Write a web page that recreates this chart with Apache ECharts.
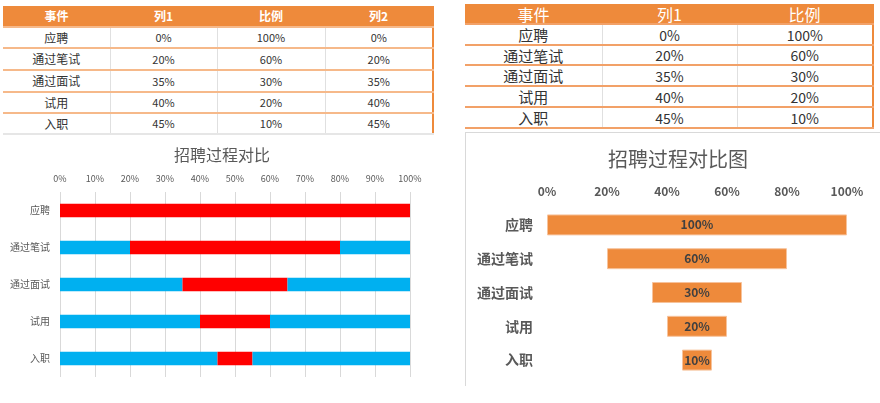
<!DOCTYPE html>
<html><head><meta charset="utf-8">
<script src="https://cdn.jsdelivr.net/npm/echarts@6/dist/echarts.min.js"></script>
<style>
html,body{margin:0;padding:0;background:#fff;width:880px;height:403px;overflow:hidden;font-family:"Noto Sans CJK SC","Noto Sans",sans-serif;}
#chart{position:absolute;left:0;top:0;width:880px;height:403px;}
table{position:absolute;border-collapse:collapse;table-layout:fixed;}
td,th{padding:0;text-align:center;vertical-align:middle;color:#333;white-space:nowrap;overflow:hidden;line-height:1;}
th{background:#EE8A3B;color:#fff;font-weight:bold;}
#t1{left:3px;top:6px;width:430px;font-size:11px;border-right:2px solid #EE8A3B;}
#t1 th{font-size:12px;}
#t1 td{border-top:2px solid #F6B98A;border-left:1px solid #e0e0e0;}
#t1 td:first-child{border-left:none;font-size:12px;}
#t1 tr:last-child td{border-bottom:2px solid #e6e6e6;}
#t2{left:465px;top:4px;width:408px;font-size:14px;border-right:2px solid #EE8A3B;}
#t2 th{font-weight:normal;font-size:16px;}
#t2 td{border-top:2px solid #F2A168;border-left:1px solid #e0e0e0;}
#t2 td:first-child{border-left:none;font-size:15px;}
#t2 tr:last-child td{border-bottom:2px solid #F2A168;}
#box{position:absolute;left:465px;top:132px;width:420px;height:253px;border-left:1px solid #d9d9d9;border-top:1px solid #d9d9d9;}
</style></head>
<body>
<div id="box"></div>
<table id="t1"></table>
<table id="t2"></table>
<div id="chart"></div>
<script>
// ---- data ----
const categories = ['应聘','通过笔试','通过面试','试用','入职'];
const col1  = [0, 20, 35, 40, 45];
const ratio = [100, 60, 30, 20, 10];
const col2  = [0, 20, 35, 40, 45];
const headers1 = ['事件','列1','比例','列2'];
const headers2 = ['事件','列1','比例'];
const leftTicks = [0,10,20,30,40,50,60,70,80,90,100];
const rightTicks = [0,20,40,60,80,100];
const title1 = '招聘过程对比';
const title2 = '招聘过程对比图';

// ---- tables ----
function buildTable(id, headers, cols, headH, rowHs, colWs){
  const t = document.getElementById(id);
  let h = '<colgroup>' + colWs.map(w=>'<col style="width:'+w+'px">').join('') + '</colgroup>';
  h += '<tr style="height:'+headH+'px">' + headers.map(x=>'<th>'+x+'</th>').join('') + '</tr>';
  categories.forEach((c,i)=>{
    h += '<tr style="height:'+rowHs[i]+'px"><td>'+c+'</td>' + cols.map(a=>'<td>'+a[i]+'%</td>').join('') + '</tr>';
  });
  t.innerHTML = h;
}
buildTable('t1', headers1, [col1, ratio, col2], 21, [21,22,22,21,21], [107,107,108,108]);
buildTable('t2', headers2, [col1, ratio], 20, [21,20,21,21,21], [137,135,136]);

// ---- chart ----
const gray = '#595959';
const ff = '"Noto Sans CJK SC","Noto Sans",sans-serif';
const chart = echarts.init(document.getElementById('chart'), null, {renderer:'canvas'});
chart.setOption({
  animation:false,
  textStyle:{fontFamily:ff},
  title:[
    {text:title1, left:217, top:142, textAlign:'center', textStyle:{fontSize:16, fontWeight:'normal', color:gray, fontFamily:ff}},
    {text:title2, left:673, top:144, textAlign:'center', textStyle:{fontSize:20, fontWeight:'normal', color:gray, fontFamily:ff}}
  ],
  grid:[
    {left:60, top:192, width:350, height:185, containLabel:false},
    {left:547, top:208, width:300, height:169, containLabel:false}
  ],
  xAxis:[
    {gridIndex:0, type:'value', position:'top', min:0, max:100, interval:10,
     axisLine:{show:false}, axisTick:{show:false},
     splitLine:{show:true, lineStyle:{color:'#d9d9d9', width:1}},
     axisLabel:{formatter:'{value}%', fontSize:9, color:gray, margin:9, fontFamily:ff}},
    {gridIndex:1, type:'value', position:'top', min:0, max:100, interval:20,
     axisLine:{show:false}, axisTick:{show:false}, splitLine:{show:false},
     axisLabel:{formatter:'{value}%', fontSize:12, fontWeight:'bold', color:gray, margin:11, fontFamily:ff}}
  ],
  yAxis:[
    {gridIndex:0, type:'category', data:categories, inverse:true,
     axisLine:{show:false}, axisTick:{show:false},
     axisLabel:{fontSize:10, color:gray, margin:10, fontFamily:ff}},
    {gridIndex:1, type:'category', data:categories, inverse:true,
     axisLine:{show:false}, axisTick:{show:false},
     axisLabel:{fontSize:14, fontWeight:'bold', color:gray, margin:14, fontFamily:ff}}
  ],
  series:[
    {name:'列1', type:'bar', xAxisIndex:0, yAxisIndex:0, stack:'a', data:col1, barCategoryGap:'64%', itemStyle:{color:'#00B0F0'}},
    {name:'比例', type:'bar', xAxisIndex:0, yAxisIndex:0, stack:'a', data:ratio, itemStyle:{color:'#FF0000'}},
    {name:'列2', type:'bar', xAxisIndex:0, yAxisIndex:0, stack:'a', data:col2, itemStyle:{color:'#00B0F0'}},
    {name:'列1', type:'bar', xAxisIndex:1, yAxisIndex:1, stack:'b', data:col1, barCategoryGap:'38%', itemStyle:{color:'rgba(0,0,0,0)'}},
    {name:'比例', type:'bar', xAxisIndex:1, yAxisIndex:1, stack:'b', data:ratio,
     itemStyle:{color:'#EE8A3B', borderColor:'#F7C39C', borderWidth:1},
     label:{show:true, position:'inside', formatter:'{c}%', fontSize:12, fontWeight:'bold', color:'#404040', fontFamily:ff}}
  ]
});
</script>
</body></html>
